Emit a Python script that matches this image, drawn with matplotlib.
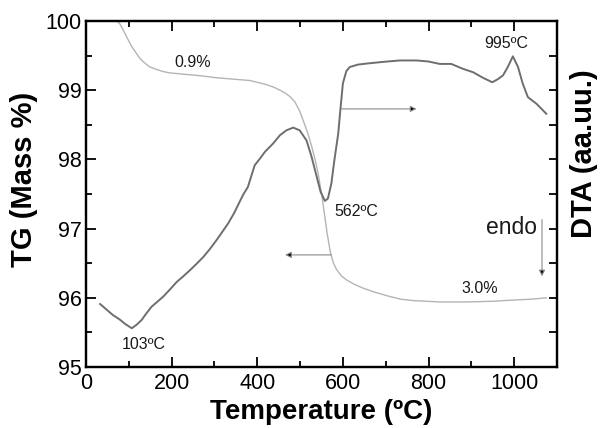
import matplotlib
matplotlib.use("Agg")
import matplotlib.pyplot as plt
import numpy as np
from matplotlib.ticker import MultipleLocator, NullFormatter

plt.rcParams['font.family'] = ['Liberation Sans', 'DejaVu Sans']

# TG curve (temperature in ºC, mass %)
tg_temp = [30, 45, 60, 70, 79, 87, 95, 106, 118, 126, 134, 148, 165, 180, 196, 230, 266,
           305, 344, 383, 422, 440, 453, 465, 476, 488, 499, 508, 518, 527, 535, 542, 550,
           556, 563, 571, 578, 585, 596, 608, 625, 647, 675, 709, 735, 764, 795, 826,
           888, 950, 1005, 1040, 1075]
tg_mass = [100.40, 100.22, 100.06, 100.01, 99.96, 99.87, 99.77, 99.64, 99.53, 99.46,
           99.41, 99.34, 99.30, 99.27, 99.25, 99.23, 99.21, 99.18, 99.16, 99.14, 99.08,
           99.04, 99.00, 98.96, 98.91, 98.83, 98.70, 98.55, 98.38, 98.19, 98.00, 97.80,
           97.51, 97.25, 96.94, 96.65, 96.50, 96.41, 96.32, 96.26, 96.20, 96.14, 96.08,
           96.02, 95.98, 95.96, 95.95, 95.94, 95.94, 95.95, 95.97, 95.98, 96.00]

# DTA curve (temperature in ºC, arbitrary units)
dta_temp = [33, 48, 63, 78, 92, 107, 118, 130, 141, 153, 166, 180, 196, 212, 228, 243,
            258, 274, 290, 305, 318, 332, 346, 359, 368, 378, 394, 406, 418, 437, 453,
            468, 484, 499, 515, 527, 539, 548, 558, 565, 573, 580, 589, 594, 600, 608,
            616, 635, 655, 695, 733, 772, 800, 826, 853, 880, 904, 927, 949, 962, 974,
            985, 997, 1009, 1020, 1032, 1052, 1075]
dta_val = [1.82, 1.66, 1.50, 1.38, 1.24, 1.12, 1.22, 1.36, 1.55, 1.74, 1.88, 2.03, 2.24,
           2.46, 2.63, 2.80, 2.98, 3.18, 3.42, 3.67, 3.90, 4.15, 4.45, 4.78, 5.00, 5.20,
           5.83, 6.02, 6.22, 6.46, 6.70, 6.84, 6.92, 6.84, 6.55, 6.07, 5.49, 5.06, 4.80,
           4.87, 5.30, 5.97, 6.74, 7.42, 8.20, 8.55, 8.67, 8.74, 8.77, 8.82, 8.86, 8.86,
           8.83, 8.76, 8.76, 8.62, 8.52, 8.36, 8.23, 8.32, 8.43, 8.67, 8.98, 8.67, 8.19,
           7.80, 7.61, 7.32]

x_ticks = [0, 200, 400, 600, 800, 1000]
y_ticks = [95, 96, 97, 98, 99, 100]

fig = plt.figure(figsize=(6.03, 4.28), dpi=100)
ax = fig.add_axes([0.1426, 0.1425, 0.7811, 0.8084])
ax2 = ax.twinx()

ax.plot(tg_temp, tg_mass, color='#b4b4b4', lw=1.0, zorder=2)
ax2.plot(dta_temp, dta_val, color='#6e6e6e', lw=1.4, zorder=3)

ax.set_xlim(0, 1100)
ax.set_ylim(95, 100)
ax2.set_ylim(0, 10)

ax.set_xticks(x_ticks)
ax.set_yticks(y_ticks)
ax.xaxis.set_minor_locator(MultipleLocator(100))
ax.yaxis.set_minor_locator(MultipleLocator(0.5))
ax2.yaxis.set_major_locator(MultipleLocator(1))
ax2.yaxis.set_major_formatter(NullFormatter())

for a in (ax, ax2):
    for s in a.spines.values():
        s.set_linewidth(1.6)
ax.tick_params(which='both', direction='in', top=True, right=False, labelsize=15.5, width=1.3)
ax.tick_params(which='major', length=7)
ax.tick_params(which='minor', length=4.5)
ax.tick_params(axis='x', pad=4)
ax.tick_params(axis='y', pad=3)
ax2.tick_params(which='both', direction='in', length=6, width=1.3)

ax.set_xlabel('Temperature (ºC)', fontsize=20, fontweight='bold', labelpad=4)
fig.text(0.04, 0.58, 'TG (Mass %)', rotation=90, fontsize=21, fontweight='bold',
         ha='center', va='center')
fig.text(0.968, 0.642, 'DTA (aa.uu.)', rotation=90, fontsize=21, fontweight='bold',
         ha='center', va='center')

ann = dict(fontsize=11.5, ha='center', va='center', color='#1a1a1a')
ax.text(250, 99.40, '0.9%', **ann)
ax.text(981, 99.68, '995ºC', **ann)
ax.text(632, 97.25, '562ºC', **ann)
ax.text(134, 95.32, '103ºC', **ann)
ax.text(919, 96.13, '3.0%', **ann)
ax.text(993, 97.02, 'endo', fontsize=16.5, ha='center', va='center', color='#1a1a1a')

arrow = dict(arrowstyle='-|>', lw=0.8, mutation_scale=9, shrinkA=0, shrinkB=0,
             fc='black', ec='#8a8a8a')
ax.annotate('', xy=(465, 96.62), xytext=(573, 96.62), arrowprops=arrow)
ax.annotate('', xy=(772, 98.73), xytext=(597, 98.73), arrowprops=arrow)
ax.annotate('', xy=(1065, 96.31), xytext=(1065, 97.13), arrowprops=arrow)

fig.savefig('out.png', dpi=100)
